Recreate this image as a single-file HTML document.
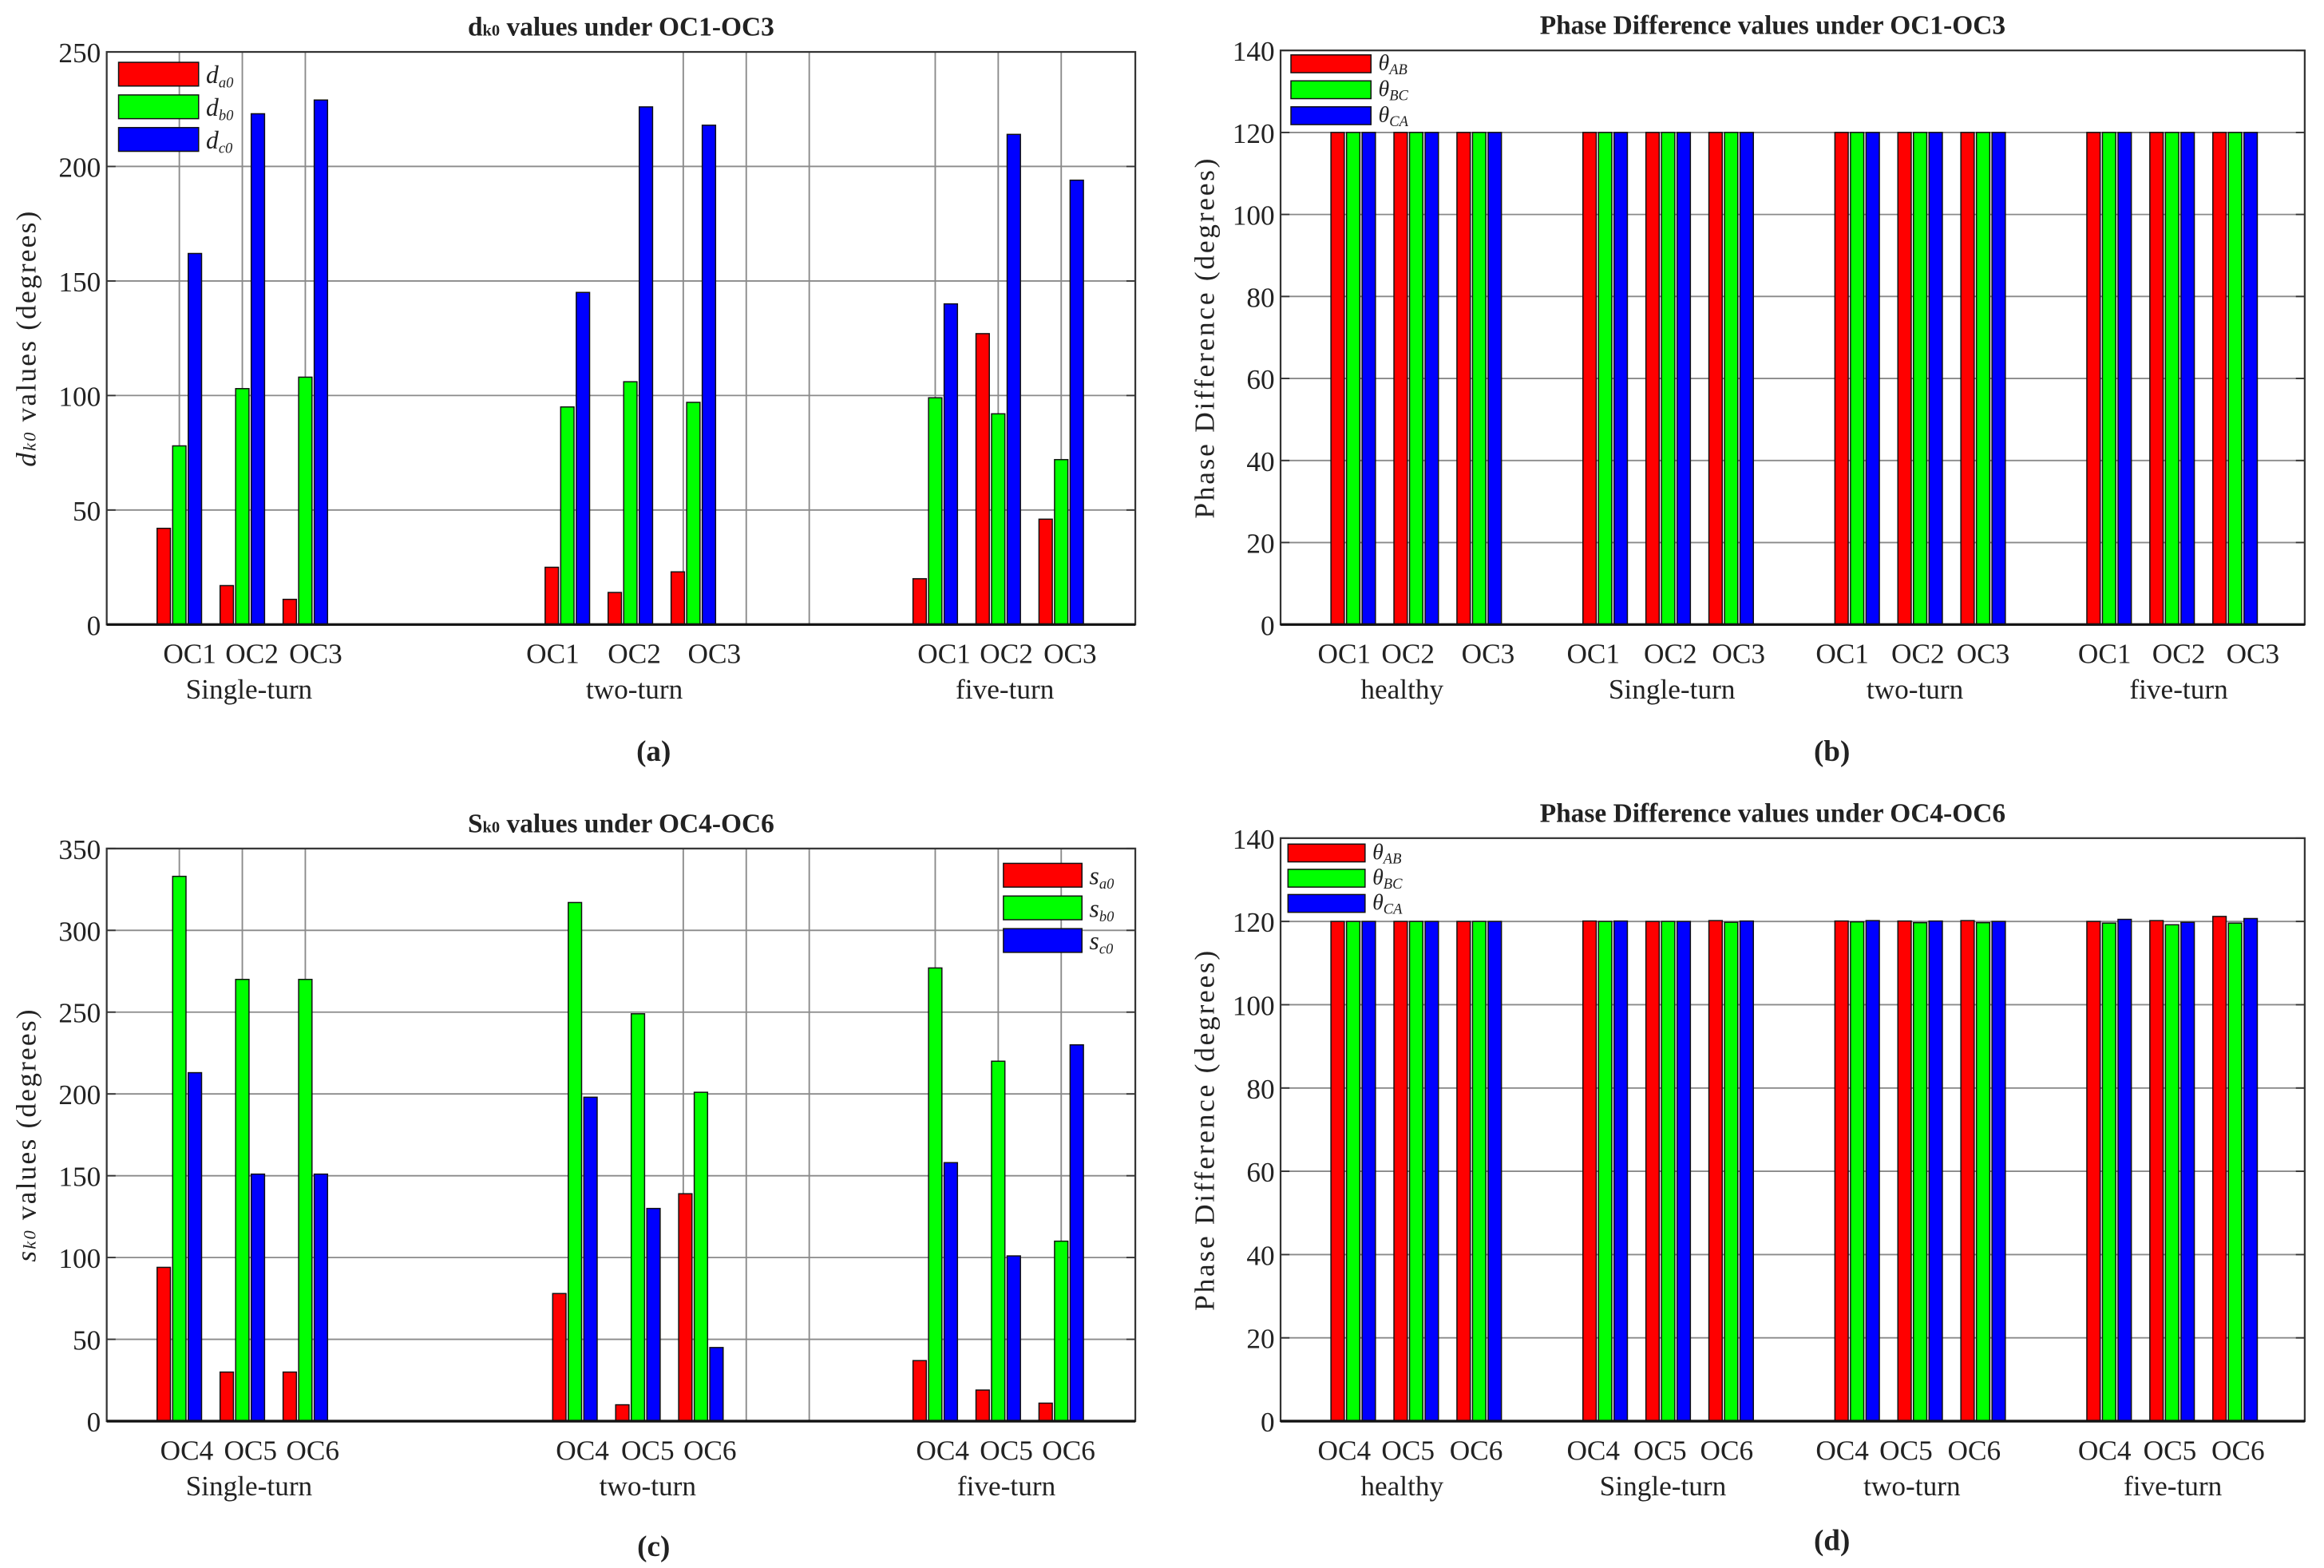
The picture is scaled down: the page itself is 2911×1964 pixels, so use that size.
<!DOCTYPE html>
<html><head><meta charset="utf-8"><style>
html,body{margin:0;padding:0;background:#fff;}
svg{display:block;}
text{font-family:"Liberation Serif",serif;fill:#222;}
</style></head><body>
<svg id="fig" width="2911" height="1964" viewBox="0 0 1568 1057" preserveAspectRatio="none" xmlns="http://www.w3.org/2000/svg"></svg>
<script>
// ---- Data ----
// Panel (a): d_k0 values
const aRed   = [42, 17, 11, 25, 14, 23, 20, 127, 46];
const aGreen = [78, 103, 108, 95, 106, 97, 99, 92, 72];
const aBlue  = [162, 223, 229, 145, 226, 218, 140, 214, 194];
const aPos   = [0, 1, 2, 6.16, 7.16, 8.16, 12, 13, 14];
const aTicks = [0, 50, 100, 150, 200, 250];
const aCats  = ["OC1","OC2","OC3","OC1","OC2","OC3","OC1","OC2","OC3"];
const aGroups = ["Single-turn","two-turn","five-turn"];
// Panel (b): phase differences OC1-OC3
const bRed   = [120,120,120,120,120,120,120,120,120,120,120,120];
const bGreen = [120,120,120,120,120,120,120,120,120,120,120,120];
const bBlue  = [120,120,120,120,120,120,120,120,120,120,120,120];
const bPos   = [0,1,2,4,5,6,8,9,10,12,13,14];
const bTicks = [0,20,40,60,80,100,120,140];
const bCats  = ["OC1","OC2","OC3","OC1","OC2","OC3","OC1","OC2","OC3","OC1","OC2","OC3"];
const bGroups = ["healthy","Single-turn","two-turn","five-turn"];
// Panel (c): s_k0 values
const cRed   = [94, 30, 30, 78, 10, 139, 37, 19, 11];
const cGreen = [333, 270, 270, 317, 249, 201, 277, 220, 110];
const cBlue  = [213, 151, 151, 198, 130, 45, 158, 101, 230];
const cPos   = [0, 1, 2, 6.28, 7.28, 8.28, 12, 13, 14];
const cTicks = [0, 50, 100, 150, 200, 250, 300, 350];
const cCats  = ["OC4","OC5","OC6","OC4","OC5","OC6","OC4","OC5","OC6"];
// Panel (d): phase differences OC4-OC6
const dRed   = [120,120,120,120.1,120,120.2,120.1,120.1,120.2,120,120.2,121.2];
const dGreen = [120,120,120,120,120,119.8,119.9,119.7,119.7,119.6,119.2,119.6];
const dBlue  = [120,120,120,120.1,120,120.1,120.2,120.1,120,120.5,119.8,120.7];
const dCats  = ["OC4","OC5","OC6","OC4","OC5","OC6","OC4","OC5","OC6","OC4","OC5","OC6"];

const svg = document.getElementById('fig');
const NS = 'http://www.w3.org/2000/svg';
function mk(tag, attrs, parent){
  const e = document.createElementNS(NS, tag);
  for (const k in attrs) e.setAttribute(k, attrs[k]);
  (parent||svg).appendChild(e);
  return e;
}
function txt(s, x, y, size, parent, opts){
  opts = opts||{};
  const t = mk('text', {x:x, y:y, 'font-size':size, 'text-anchor':opts.anchor||'middle'}, parent);
  if (opts.bold) t.setAttribute('font-weight','bold');
  if (opts.transform) t.setAttribute('transform', opts.transform);
  if (opts.italic) t.setAttribute('font-style','italic');
  if (opts.ls) t.setAttribute('letter-spacing', opts.ls);
  t.innerHTML = s;
  return t;
}

function panel(cfg){
  const g = mk('g', {});
  
  
  const L=cfg.left,R=cfg.right,T=cfg.top,B=cfg.bottom;
  const ymax = cfg.ticks[cfg.ticks.length-1];
  const yS = v => B - (v/ymax)*(B-T);
  const xS = k => cfg.x0 + k*cfg.dx;
  cfg.ticks.forEach(v=>{
    if (v>0 && v<ymax){
      const l = mk('line',{x1:L,x2:R,y1:yS(v),y2:yS(v),stroke:'#8a8a8a','stroke-width':1},g);
      
      
    }
    const t = txt(String(v), L-4, yS(v)+7, 19, g, {anchor:'end'});
    
    
    mk('line',{x1:L,x2:L+6,y1:yS(v),y2:yS(v),stroke:'#333','stroke-width':1},g);
    mk('line',{x1:R-6,x2:R,y1:yS(v),y2:yS(v),stroke:'#333','stroke-width':1},g);
  });
  (cfg.vgrid||[]).forEach(k=>{
    const l = mk('line',{x1:xS(k),x2:xS(k),y1:T,y2:B,stroke:'#8a8a8a','stroke-width':1},g);
    
    
  });
  const series=[[cfg.red,'#ff0000','bar-red'],[cfg.green,'#00ff00','bar-green'],[cfg.blue,'#0000ff','bar-blue']];
  series.forEach((s,si)=>{
    s[0].forEach((v,i)=>{
      const cx = xS(cfg.pos[i]) + (si-1)*cfg.off;
      const r = mk('rect',{x:cx-cfg.bw/2,y:yS(v),width:cfg.bw,height:B-yS(v),fill:s[1],stroke:'#111','stroke-width':0.8},g);
      
      
    });
  });
  const box = mk('rect',{x:L,y:T,width:R-L,height:B-T,fill:'none',stroke:'#333','stroke-width':1.2},g);
  
  
  mk('line',{x1:L,x2:R,y1:B,y2:B,stroke:'#111','stroke-width':1.8},g);
  cfg.cats.forEach((c,i)=>{
    const t = txt(c, cfg.catX[i], B+26, 19, g);
    
    
  });
  cfg.groups.forEach((c,i)=>{
    const t = txt(c, cfg.groupX[i], B+50, 19, g);
    
    
  });
  const tt = txt(cfg.title, cfg.titleX, T-11, 18, g, {bold:true});
  
  
  const yl = txt(cfg.ylabel, cfg.ylx, (T+B)/2, cfg.ylfs, g, {transform:`rotate(-90 ${cfg.ylx} ${(T+B)/2})`, ls:cfg.ylls});
  
  
  const pl = txt(cfg.letter, cfg.letterX, cfg.letterY, 20, g, {bold:true});
  
  
  const cols=['#ff0000','#00ff00','#0000ff'];
  cfg.legend.forEach((lab,i)=>{
    const y = cfg.legY + i*cfg.legStep;
    const r = mk('rect',{x:cfg.legX,y:y,width:cfg.legW,height:cfg.legH,fill:cols[i],stroke:'#111','stroke-width':0.8},g);
    
    
    const t = txt(lab, cfg.legX+cfg.legW+5, y+cfg.legH-2, cfg.legFs, g, {anchor:'start', italic:true});
    
    
  });
}

const sub = (a,b)=>`${a}<tspan font-size="10" dy="3">${b}</tspan>`;

panel({name:'chart-a', left:72,right:766,top:35,bottom:421, ticks:aTicks, x0:121, dx:42.5,
  red:aRed,green:aGreen,blue:aBlue,pos:aPos,bw:9,off:10.5, vgrid:[0,1,2,8,9,10,12,13,14],
  cats:aCats, catX:[128,170,213,373,428,482,637,679,722], groups:aGroups, groupX:[168,428,678],
  title:'d<tspan font-size="11">k0</tspan> values under OC1-OC3', titleX:419, ylabel:'<tspan font-style="italic">d</tspan><tspan font-size="12" font-style="italic">k0</tspan> values (degrees)', ylx:24, ylfs:19, ylls:1.2,
  letter:'(a)', letterX:441, letterY:513,
  legend:[sub('d','a0'),sub('d','b0'),sub('d','c0')], legX:80,legY:42,legStep:22,legW:54,legH:16,legFs:17});

panel({name:'chart-b', left:864,right:1555,top:34,bottom:421, ticks:bTicks, x0:913, dx:42.5,
  red:bRed,green:bGreen,blue:bBlue,pos:bPos,bw:9,off:10.5, vgrid:[],
  cats:bCats, catX:[907,950,1004,1075,1127,1173,1243,1294,1338,1420,1470,1520], groups:bGroups, groupX:[946,1128,1292,1470],
  title:'Phase Difference values under OC1-OC3', titleX:1196, ylabel:'Phase Difference (degrees)', ylx:819, ylfs:19, ylls:1.5,
  letter:'(b)', letterX:1236, letterY:513,
  legend:[sub('θ','AB'),sub('θ','BC'),sub('θ','CA')], legX:871,legY:37,legStep:17.5,legW:54,legH:12,legFs:15});

panel({name:'chart-c', left:72,right:766,top:572,bottom:958, ticks:cTicks, x0:121, dx:42.5,
  red:cRed,green:cGreen,blue:cBlue,pos:cPos,bw:9,off:10.5, vgrid:[0,1,2,8,9,10,12,13,14],
  cats:cCats, catX:[126,169,211,393,437,479,636,679,721], groups:aGroups, groupX:[168,437,679],
  title:'S<tspan font-size="11">k0</tspan> values under OC4-OC6', titleX:419, ylabel:'<tspan font-style="italic">s</tspan><tspan font-size="12" font-style="italic">k0</tspan> values (degrees)', ylx:24, ylfs:19, ylls:1.2,
  letter:'(c)', letterX:441, letterY:1049,
  legend:[sub('s','a0'),sub('s','b0'),sub('s','c0')], legX:677,legY:582,legStep:22,legW:53,legH:16,legFs:17});

panel({name:'chart-d', left:864,right:1555,top:565,bottom:958, ticks:bTicks, x0:913, dx:42.5,
  red:dRed,green:dGreen,blue:dBlue,pos:bPos,bw:9,off:10.5, vgrid:[],
  cats:dCats, catX:[907,950,996,1075,1120,1165,1243,1286,1332,1420,1464,1510], groups:bGroups, groupX:[946,1122,1290,1466],
  title:'Phase Difference values under OC4-OC6', titleX:1196, ylabel:'Phase Difference (degrees)', ylx:819, ylfs:19, ylls:1.5,
  letter:'(d)', letterX:1236, letterY:1045,
  legend:[sub('θ','AB'),sub('θ','BC'),sub('θ','CA')], legX:869,legY:569,legStep:17,legW:52,legH:12,legFs:15});
</script>
</body></html>
